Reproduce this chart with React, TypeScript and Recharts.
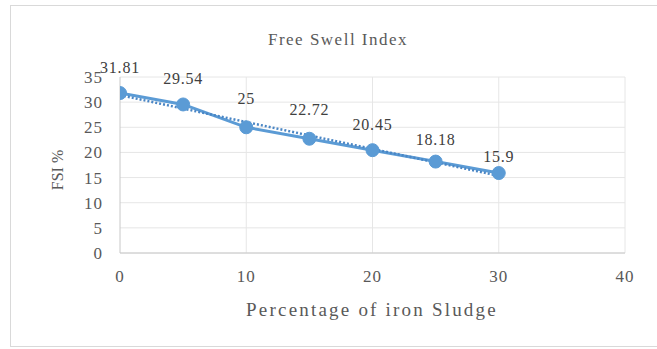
import React from "react";
import { LineChart, Line, XAxis, YAxis, CartesianGrid, LabelList } from "recharts";

const sludgePercent = [0, 5, 10, 15, 20, 25, 30];
const fsiValues = [31.81, 29.54, 25, 22.72, 20.45, 18.18, 15.9];
const trendX = [0, 30];
const trendY = [31.4, 15.35];
const xTicks = [0, 10, 20, 30, 40];
const yTicks = [0, 5, 10, 15, 20, 25, 30, 35];

const data = sludgePercent.map((x, i) => ({ x, fsi: fsiValues[i] }));
const trendData = trendX.map((x, i) => ({ x, trend: trendY[i] }));

// label lift above each marker (styling only, in px)
const LABEL_LIFT = [26, 26, 29, 29, 26, 22, 17];

const FONT = "'Liberation Serif', 'Times New Roman', serif";
const TXT = "#595959";
const BLUE = "#5B9BD5";

const DataLabel = (props: any) => {
  const { x, y, value, index } = props;
  const lift = LABEL_LIFT[index] ?? 22;
  return (
    <text
      x={x}
      y={y - lift}
      textAnchor="middle"
      dominantBaseline="central"
      fontFamily={FONT}
      fontSize={16}
      fill="#404040"
      letterSpacing={0.8}
    >
      {value}
    </text>
  );
};

export default function App() {
  return (
    <div style={{ position: "absolute", left: 0, top: 0, width: 657, height: 349, background: "#fff", overflow: "hidden" }}>
      <div
        style={{
          position: "absolute",
          left: 10,
          top: 5,
          width: 660,
          height: 342,
          border: "1px solid #d9d9d9",
          boxSizing: "border-box",
        }}
      />
      <div style={{ position: "absolute", left: 0, top: 0 }}>
        <LineChart width={657} height={349} margin={{ top: 77, right: 32, bottom: 66, left: 80 }}>
          <CartesianGrid stroke="#e6e6e6" strokeWidth={1} verticalValues={[10, 20, 30, 40]} />
          <XAxis
            dataKey="x"
            type="number"
            domain={[0, 40]}
            ticks={xTicks}
            allowDataOverflow
            height={30}
            tickSize={0}
            tickMargin={17}
            axisLine={{ stroke: "#c8c8c8" }}
            tickLine={false}
            tick={{ fontFamily: FONT, fontSize: 17, fill: TXT, letterSpacing: 1 }}
          />
          <YAxis
            type="number"
            domain={[0, 35]}
            ticks={yTicks}
            width={40}
            tickSize={0}
            tickMargin={17}
            axisLine={{ stroke: "#c8c8c8" }}
            tickLine={false}
            tick={{ fontFamily: FONT, fontSize: 17, fill: TXT, letterSpacing: 1 }}
          />
          <Line
            data={data}
            dataKey="fsi"
            type="linear"
            stroke={BLUE}
            strokeWidth={3}
            dot={{ r: 6.5, fill: BLUE, stroke: BLUE, strokeWidth: 1 }}
            isAnimationActive={false}
          >
            <LabelList dataKey="fsi" content={<DataLabel />} />
          </Line>
          <Line
            data={trendData}
            dataKey="trend"
            type="linear"
            stroke="#4a86c5"
            strokeWidth={2.5}
            strokeDasharray="2 2"
            dot={false}
            isAnimationActive={false}
          />
          <text x={338} y={45} textAnchor="middle" fontFamily={FONT} fontSize={17} fill={TXT} letterSpacing={1.5}>
            Free Swell Index
          </text>
          <text
            x={63}
            y={170}
            textAnchor="middle"
            fontFamily={FONT}
            fontSize={16}
            fill={TXT}
            transform="rotate(-90 63 170)"
          >
            FSI %
          </text>
          <text x={372} y={316} textAnchor="middle" fontFamily={FONT} fontSize={19} fill={TXT} letterSpacing={2.2}>
            Percentage of iron Sludge
          </text>
        </LineChart>
      </div>
    </div>
  );
}
